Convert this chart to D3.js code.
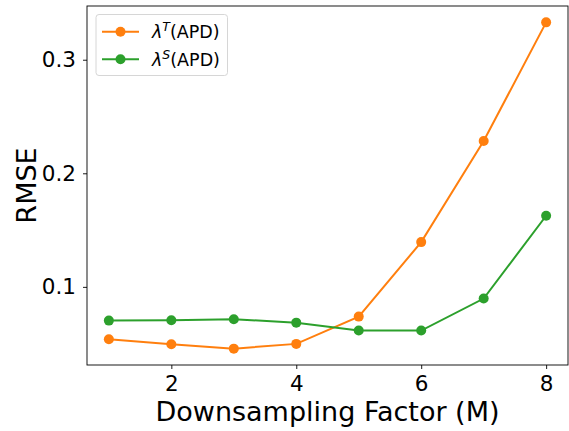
<!DOCTYPE html>
<html>
<head>
<meta charset="utf-8">
<script src="https://cdn.jsdelivr.net/npm/d3@7"></script>
<style>
  body { margin: 0; background: #fff; }
  text { font-family: "DejaVu Sans", sans-serif; fill: #000; }
</style>
</head>
<body>
<script>

var factors = [1, 2, 3, 4, 5, 6, 7, 8];
var rmseT = [0.0539, 0.0495, 0.0456, 0.0498, 0.0738, 0.1394, 0.2284, 0.3329];
var rmseS = [0.0703, 0.0706, 0.0715, 0.0685, 0.0615, 0.0615, 0.0897, 0.1626];
var xTicks = [2, 4, 6, 8];
var yTicks = [0.1, 0.2, 0.3];

var series = [
  { sup: "T", values: rmseT, color: "#ff7f0e" },
  { sup: "S", values: rmseS, color: "#2ca02c" }
];

var width = 569, height = 431;
var margin = { left: 87, right: 1, top: 6, bottom: 66 };

var svg = d3.select("body").append("svg")
            .attr("width", width)
            .attr("height", height);

var x = d3.scaleLinear()
          .domain([0.65, 8.35])
          .range([margin.left, width - margin.right]);

var y = d3.scaleLinear()
          .domain([0.0312, 0.3473])
          .range([height - margin.bottom, margin.top]);

// axes
var xAxis = svg.append("g")
               .attr("transform", "translate(0," + (height - margin.bottom) + ")")
               .call(d3.axisBottom(x).tickValues(xTicks).tickSize(4).tickPadding(7).tickFormat(d3.format("d")));

var yAxis = svg.append("g")
               .attr("transform", "translate(" + margin.left + ",0)")
               .call(d3.axisLeft(y).tickValues(yTicks).tickSize(4).tickPadding(7).tickFormat(d3.format(".1f")));

[xAxis, yAxis].forEach(function(a) {
  a.select(".domain").remove();
  a.selectAll("line").attr("stroke", "#000").attr("stroke-width", 0.9);
  a.selectAll("text").style("font-size", "21.5px").style("font-family", "DejaVu Sans");
});

// frame
svg.append("rect")
   .attr("x", margin.left)
   .attr("y", margin.top)
   .attr("width", width - margin.left - margin.right)
   .attr("height", height - margin.top - margin.bottom)
   .attr("fill", "none")
   .attr("stroke", "#000")
   .attr("stroke-width", 0.9);

// lines + markers
var line = d3.line()
             .x(function(d, i) { return x(factors[i]); })
             .y(function(d) { return y(d); });

series.forEach(function(s) {
  svg.append("path")
     .attr("d", line(s.values))
     .attr("fill", "none")
     .attr("stroke", s.color)
     .attr("stroke-width", 2);

  svg.selectAll(null)
     .data(s.values)
     .enter()
     .append("circle")
     .attr("cx", function(d, i) { return x(factors[i]); })
     .attr("cy", function(d) { return y(d); })
     .attr("r", 5)
     .attr("fill", s.color);
});

// axis labels
svg.append("text")
   .attr("x", (margin.left + width - margin.right) / 2)
   .attr("y", 421)
   .attr("text-anchor", "middle")
   .style("font-size", "27px")
   .text("Downsampling Factor (M)");

svg.append("text")
   .attr("transform", "translate(36," + ((margin.top + height - margin.bottom) / 2) + ") rotate(-90)")
   .attr("text-anchor", "middle")
   .style("font-size", "27px")
   .text("RMSE");

// legend
var legend = svg.append("g");
legend.append("rect")
      .attr("x", 96)
      .attr("y", 14.5)
      .attr("width", 131.5)
      .attr("height", 61)
      .attr("rx", 3)
      .attr("fill", "#fff")
      .attr("fill-opacity", 0.8)
      .attr("stroke", "#d6d6d6")
      .attr("stroke-width", 1);

series.forEach(function(s, i) {
  var cy = 31.7 + i * 27.6;
  legend.append("line")
        .attr("x1", 102).attr("x2", 139)
        .attr("y1", cy).attr("y2", cy)
        .attr("stroke", s.color)
        .attr("stroke-width", 2);
  legend.append("circle")
        .attr("cx", 120.5).attr("cy", cy)
        .attr("r", 5)
        .attr("fill", s.color);
  var t = legend.append("text")
                .attr("x", 152)
                .attr("y", cy + 6.3)
                .style("font-size", "17.5px");
  t.append("tspan").style("font-style", "italic").text("λ");
  t.append("tspan").attr("dy", -7).style("font-size", "12.5px").style("font-style", "italic").text(s.sup);
  t.append("tspan").attr("dy", 7).text("(APD)");
});

</script>
</body>
</html>
